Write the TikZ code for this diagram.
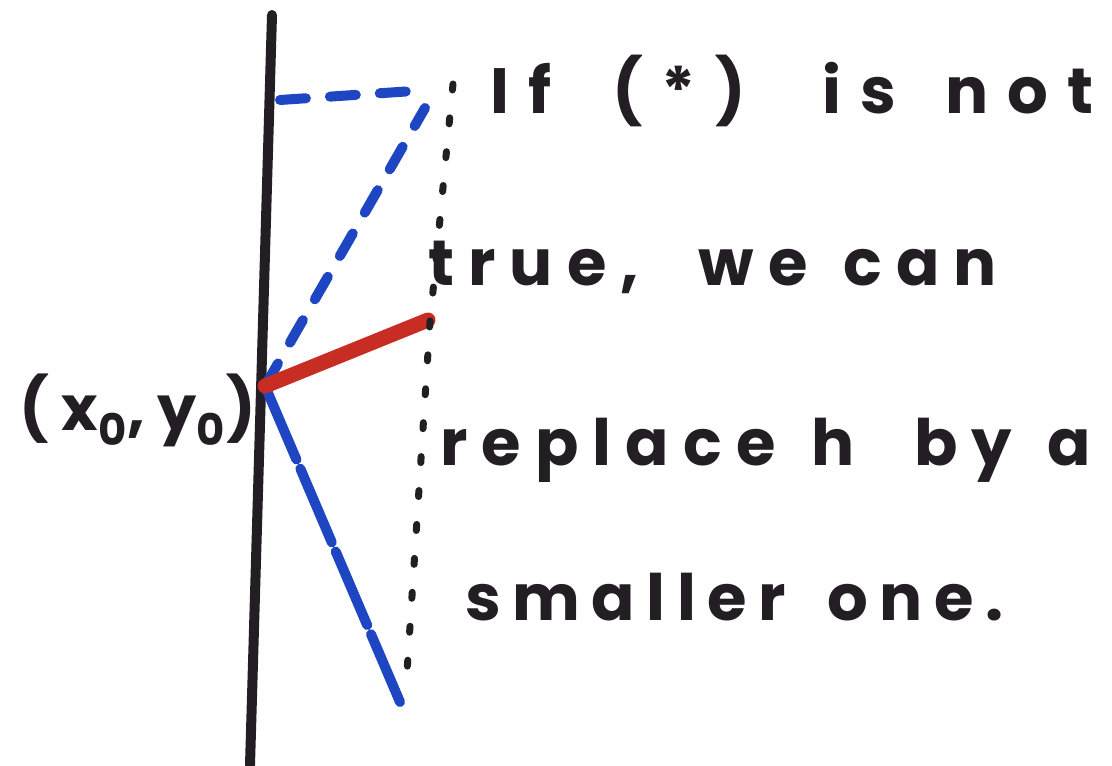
\documentclass[tikz,border=0pt]{standalone}
\usepackage{fontspec}
\setmainfont{Poppins}
\usepackage{xcolor}
\definecolor{markerBlue}{RGB}{30, 70, 195}
\definecolor{markerRed}{RGB}{200, 45, 35}
\definecolor{inkBlack}{RGB}{35, 30, 35}
\usepackage{tikz}
\usetikzlibrary{positioning}

\tikzset{
  axisline/.style={draw=inkBlack, line width=5pt, line cap=round},
  bluedash/.style={draw=markerBlue, line width=5pt, line cap=round, dash pattern=on 13pt off 12pt},
  reddraw/.style={draw=markerRed, line width=7.5pt, line cap=round},
  blackdots/.style={draw=inkBlack, line width=3.5pt, line cap=round, dash pattern=on 3pt off 14pt},
  handtext/.style={anchor=base west, inner sep=0pt, text=inkBlack,
    font=\fontsize{32}{40}\selectfont\bfseries\addfontfeature{LetterSpace=#1}}
}
\newcommand{\wgap}[1]{\hspace{#1pt}}

\begin{document}
\begin{tikzpicture}[x=0.5pt, y=-0.5pt]
\useasboundingbox (0,0) rectangle (1112,765);

% axis and corner points
\coordinate (axisTop) at (272,15);
\coordinate (axisBot) at (250,765);
\coordinate (P) at (265,386);
\coordinate (hStart) at (280,100);
\coordinate (hEnd) at (428,90);
\coordinate (diagTop) at (425,108);
\coordinate (dotTop) at (453,84);
\coordinate (dotMid) at (430,322);
\coordinate (dotBot) at (407,672);
\coordinate (redEnd) at (428,320);
\coordinate (blueBot) at (400,702);

\draw[axisline] (axisTop) -- (axisBot);
\fill[inkBlack] (P) circle (6);

% blue dashed triangle
\draw[bluedash] (hStart) -- (hEnd);
\draw[bluedash] (P) -- (diagTop);
\draw[bluedash, dash pattern=on 40pt off 5pt] (P) -- (blueBot);

% red segment
\draw[reddraw] (P) -- (redEnd);

% dotted vertical
\draw[blackdots] (dotTop) -- (dotMid) -- (dotBot);

% labels
\node[anchor=east, inner sep=0pt, text=inkBlack,
  font=\fontsize{31}{36}\selectfont\bfseries\addfontfeature{LetterSpace=20}] (pLabel) at (256,410)
  {(x\textsubscript{0},y\textsubscript{0})};

\node[handtext=30] (line1) at (490,113) {If\wgap{14} (*)\wgap{22} is\wgap{8} not};
\node[handtext=22] (line2) at (428,285) {true,\wgap{16} we\wgap{4} can};
\node[handtext=22] (line3) at (440,465) {replace\wgap{4} h\wgap{16} by\wgap{4} a};
\node[handtext=18] (line4) at (465,620) {smaller\wgap{8} one.};
\end{tikzpicture}
\end{document}
